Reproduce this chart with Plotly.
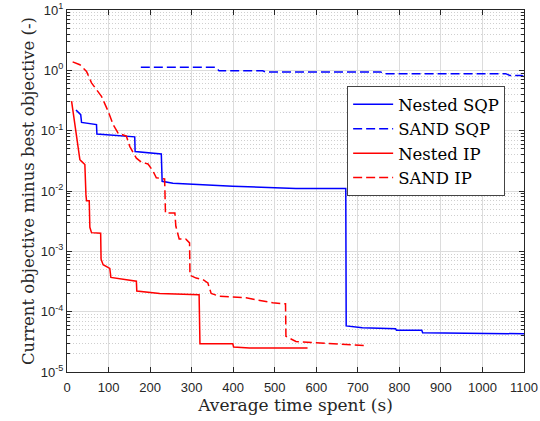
import plotly.graph_objects as go

# Nested SQP (solid blue)
nsqp_t = [21.6, 33, 35, 71, 72, 163, 164, 227, 229, 255, 399, 551, 671, 672, 711, 791, 793, 854, 856, 1100]
nsqp_y = [0.22, 0.184, 0.137, 0.126, 0.088, 0.079, 0.045, 0.041, 0.0145, 0.0135, 0.012, 0.011, 0.011, 5.8e-5, 5.4e-5, 5.2e-5, 4.9e-5, 4.9e-5, 4.47e-5, 4.3e-5]

# SAND SQP (dashed blue)
ssqp_t = [177.7, 359, 366, 471, 478, 755, 763, 1056, 1066, 1095, 1100]
ssqp_y = [1.12, 1.12, 0.98, 0.98, 0.94, 0.94, 0.88, 0.88, 0.82, 0.82, 0.78]

# Nested IP (solid red)
nip_t = [11, 15, 19, 23, 27, 31, 35, 43, 45.6, 47, 53.5, 55, 59, 81, 82, 87, 103, 105.6, 167, 168, 223, 318, 320, 399, 401, 439, 579]
nip_y = [0.31, 0.196, 0.111, 0.071, 0.046, 0.033, 0.031, 0.0275, 0.0087, 0.0069, 0.0069, 0.0025, 0.00204, 0.002, 0.00074, 0.0006, 0.00052, 0.00037, 0.00032, 0.00022, 0.0002, 0.00019, 2.95e-5, 2.95e-5, 2.6e-5, 2.5e-5, 2.5e-5]

# SAND IP (dashed red)
sip_t = [13.6, 31, 47, 59, 83, 99, 111, 123, 143, 151, 167, 179, 195, 206, 215, 235, 237, 259.7, 262, 270, 285.7, 295, 296, 311, 327, 339, 347, 367, 431, 495, 526, 527, 551, 703, 715]
sip_y = [1.38, 1.24, 0.96, 0.62, 0.37, 0.21, 0.126, 0.091, 0.081, 0.055, 0.035, 0.030, 0.028, 0.022, 0.0166, 0.0158, 0.0043, 0.0043, 0.0026, 0.0016, 0.0016, 0.00138, 0.0004, 0.00036, 0.00034, 0.0003, 0.0002, 0.00018, 0.00017, 0.00014, 0.000135, 3.9e-5, 3.2e-5, 2.75e-5, 2.75e-5]

# y tick labels
y_tickvals = [1e-5, 1e-4, 1e-3, 1e-2, 1e-1, 1e0, 1e1]
y_ticktext = ["10<sup>-5</sup>", "10<sup>-4</sup>", "10<sup>-3</sup>", "10<sup>-2</sup>",
              "10<sup>-1</sup>", "10<sup>0</sup>", "10<sup>1</sup>"]

series = [
    ("Nested SQP", nsqp_t, nsqp_y, "#0000FF", "solid"),
    ("SAND SQP", ssqp_t, ssqp_y, "#0000FF", "9px,4px"),
    ("Nested IP", nip_t, nip_y, "#FF0000", "solid"),
    ("SAND IP", sip_t, sip_y, "#FF0000", "9px,4px"),
]

fig = go.Figure()
for name, t, y, c, d in series:
    fig.add_trace(go.Scatter(x=t, y=y, mode="lines", name=name,
                             line=dict(color=c, width=1.5, dash=d)))

serif = "DejaVu Serif"
sans = "Liberation Sans"
axcol = "#262626"

fig.update_layout(
    width=540, height=421,
    margin=dict(l=67, r=16, t=10, b=49),
    paper_bgcolor="white", plot_bgcolor="white",
    font=dict(family=serif),
    showlegend=True,
    legend=dict(x=0.613, y=0.79, xanchor="left", yanchor="top",
                font=dict(family=serif, size=16.5, color="black"),
                bgcolor="white", bordercolor="#444444", borderwidth=1,
                itemwidth=40, tracegroupgap=0),
    xaxis=dict(range=[0, 1100], dtick=100, tick0=0, automargin=False,
               showgrid=True, gridcolor="#DCDCDC", gridwidth=1,
               ticks="inside", ticklen=5, tickcolor=axcol,
               showline=True, linecolor=axcol, linewidth=1, mirror="ticks",
               tickfont=dict(family=sans, size=13, color=axcol),
               ticklabelstandoff=3,
               title=dict(text="Average time spent (s)", font=dict(family=serif, size=17, color=axcol), standoff=3),
               zeroline=False),
    yaxis=dict(type="log", range=[-5, 1], tickvals=y_tickvals, ticktext=y_ticktext,
               automargin=False,
               showgrid=True, gridcolor="#DCDCDC", gridwidth=1,
               ticks="inside", ticklen=5, tickcolor=axcol,
               showline=True, linecolor=axcol, linewidth=1, mirror="ticks",
               tickfont=dict(family=sans, size=13, color=axcol),
               minor=dict(dtick="D1", ticks="inside", ticklen=3, tickcolor=axcol,
                          showgrid=True, gridcolor="#CFCFCF", griddash="1px,2px", gridwidth=1),
               title=dict(text="Current objective minus best objective (-)", font=dict(family=serif, size=16.5, color=axcol), standoff=2),
               zeroline=False),
)

fig.write_html("out.html")
